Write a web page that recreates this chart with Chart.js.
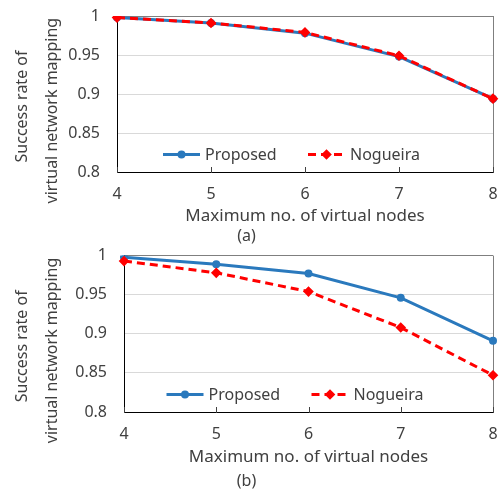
<!DOCTYPE html>
<html>
<head>
<meta charset="utf-8">
<script src="https://cdn.jsdelivr.net/npm/chart.js@4.4.1/dist/chart.umd.min.js"></script>
<style>
  body { margin: 0; background: #fff; width: 501px; height: 491px; position: relative; overflow: hidden; }
  canvas { position: absolute; left: 0; }
  #chartA { top: 0; }
  #chartB { top: 246px; }
</style>
</head>
<body>
<canvas id="chartA" width="501" height="246"></canvas>
<canvas id="chartB" width="501" height="245"></canvas>
<script>
// x categories: maximum number of virtual nodes
const nodeLabels = ['4', '5', '6', '7', '8'];
// (a)
const proposedA = [0.998, 0.991, 0.978, 0.948, 0.894];
const nogueiraA = [0.998, 0.991, 0.979, 0.949, 0.894];
// (b)
const proposedB = [0.998, 0.989, 0.977, 0.946, 0.891];
const nogueiraB = [0.993, 0.978, 0.954, 0.908, 0.847];
const yTicks = [0.8, 0.85, 0.9, 0.95, 1];

const FONT = '"Noto Sans", sans-serif';
const TXT = '#404040';
const BLUE = '#2a79bd';
const RED = '#ff0000';

// small tick marks on the inside of the x axis
const innerTicks = {
  id: 'innerTicks',
  beforeDatasetsDraw(chart) {
    const ctx = chart.ctx;
    const xs = chart.scales.x;
    const bottom = chart.chartArea.bottom;
    ctx.save();
    ctx.strokeStyle = '#404040';
    ctx.lineWidth = 1;
    xs.ticks.forEach((t, i) => {
      const px = Math.round(xs.getPixelForTick(i)) + 0.5;
      ctx.beginPath();
      ctx.moveTo(px, bottom - 5);
      ctx.lineTo(px, bottom + 1);
      ctx.stroke();
    });
    ctx.restore();
  }
};

// legend drawn inside the plot, near the bottom
const insideLegend = {
  id: 'insideLegend',
  afterDatasetsDraw(chart, args, opts) {
    const ctx = chart.ctx;
    const area = chart.chartArea;
    const mid = (area.left + area.right) / 2;
    let x = mid + opts.shift;
    const y = area.bottom - opts.bottom;
    ctx.save();
    ctx.font = '16px ' + FONT;
    ctx.textBaseline = 'middle';
    ctx.textAlign = 'left';
    chart.data.datasets.forEach(ds => {
      ctx.strokeStyle = ds.borderColor;
      ctx.lineWidth = ds.borderWidth;
      ctx.setLineDash(ds.borderDash || []);
      ctx.beginPath();
      ctx.moveTo(x, y);
      ctx.lineTo(x + 37, y);
      ctx.stroke();
      ctx.setLineDash([]);
      ctx.fillStyle = ds.pointBackgroundColor;
      ctx.strokeStyle = ds.pointBorderColor;
      Chart.helpers.drawPoint(ctx, { pointStyle: ds.pointStyle, radius: ds.pointRadius, rotation: 0, borderWidth: 1 }, x + 18.5, y);
      ctx.fillStyle = TXT;
      ctx.fillText(ds.label, x + 42, y + 1);
      x += 145;
    });
    ctx.restore();
  }
};

function makeChart(id, proposed, nogueira, tag, cfg) {
  const ctx = document.getElementById(id).getContext('2d');
  return new Chart(ctx, {
    type: 'line',
    data: {
      labels: nodeLabels,
      datasets: [{
        label: 'Proposed',
        data: proposed,
        borderColor: BLUE,
        backgroundColor: BLUE,
        pointBackgroundColor: BLUE,
        pointBorderColor: BLUE,
        pointStyle: 'circle',
        pointRadius: 2.5,
        borderWidth: 3,
        tension: 0,
        order: 1
      }, {
        label: 'Nogueira',
        data: nogueira,
        borderColor: RED,
        backgroundColor: RED,
        pointBackgroundColor: RED,
        pointBorderColor: RED,
        pointStyle: 'rectRot',
        pointRadius: 3.2,
        borderWidth: 3,
        borderDash: [8, 5],
        tension: 0,
        order: 0
      }]
    },
    options: {
      responsive: false,
      animation: false,
      layout: { padding: cfg.pad },
      plugins: {
        legend: { display: false },
        tooltip: { enabled: false },
        title: {
          display: true, position: 'bottom', text: tag, color: TXT,
          font: { family: FONT, size: 16, weight: 'normal', lineHeight: 1.2 },
          padding: { top: 0, bottom: 0 }
        },
        insideLegend: { shift: -142, bottom: 17.5 }
      },
      scales: {
        x: {
          grid: {
            drawOnChartArea: true,
            color: c => c.index === nodeLabels.length - 1 ? '#7f7f7f' : 'rgba(0,0,0,0)',
            tickColor: 'rgba(0,0,0,0)',
            tickLength: cfg.tick
          },
          border: { color: '#000', width: 1 },
          ticks: { color: TXT, padding: 0, font: { family: FONT, size: 16 } },
          title: {
            display: true, text: 'Maximum no. of virtual nodes', color: TXT,
            font: { family: FONT, size: 17, lineHeight: 1.2 },
            padding: cfg.titlePad
          }
        },
        y: {
          min: 0.8, max: 1,
          afterBuildTicks: s => { s.ticks = yTicks.map(v => ({ value: v })); },
          afterFit: s => { s.width = cfg.axisW; },
          grid: {
            drawTicks: true,
            tickLength: 17,
            tickColor: 'rgba(0,0,0,0)',
            color: c => c.tick && c.tick.value === 1 ? '#7f7f7f' : '#d9d9d9'
          },
          border: { color: '#000', width: 1 },
          ticks: {
            color: TXT, padding: 0, font: { family: FONT, size: 16 },
            callback: v => String(Number(v.toFixed(2)))
          },
          title: {
            display: true,
            // trailing spaces nudge the rotated title a bit lower, like the original
            text: ['Success rate of      ', 'virtual network mapping        '],
            color: TXT,
            font: { family: FONT, size: 16, lineHeight: 1.9 },
            padding: { top: 7, bottom: 0 }
          }
        }
      }
    },
    plugins: [innerTicks, insideLegend]
  });
}

makeChart('chartA', proposedA, nogueiraA, '(a)', {
  axisW: 117, tick: 12.4, titlePad: { top: 2.7, bottom: 0.1 },
  pad: { top: 16, right: 8, bottom: 0, left: 0 }
});
makeChart('chartB', proposedB, nogueiraB, '(b)', {
  axisW: 124, tick: 12.4, titlePad: { top: 3.2, bottom: 4.6 },
  pad: { top: 9, right: 8, bottom: 0, left: 0 }
});
</script>
</body>
</html>
